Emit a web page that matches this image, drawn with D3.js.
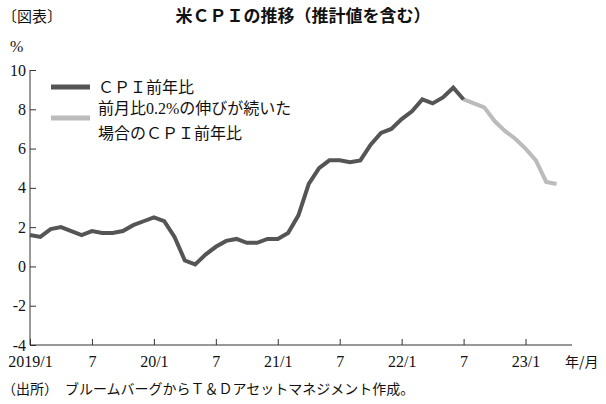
<!DOCTYPE html>
<html><head><meta charset="utf-8">
<script src="https://cdn.jsdelivr.net/npm/d3@7"></script>
<style>
body{margin:0;background:#fff;}
text{font-family:"Liberation Serif","Noto Sans CJK JP",serif;fill:#111;}
</style></head>
<body><svg id="chart" width="606" height="404"></svg>
<script>
const actual = [1.6,1.5,1.9,2.0,1.8,1.6,1.8,1.7,1.7,1.8,2.1,2.3,
  2.5,2.3,1.5,0.3,0.1,0.6,1.0,1.3,1.4,1.2,1.2,1.4,
  1.4,1.7,2.6,4.2,5.0,5.4,5.4,5.3,5.4,6.2,6.8,7.0,
  7.5,7.9,8.5,8.3,8.6,9.1,8.5];
const projected = [8.5,8.3,8.1,7.4,6.9,6.5,6.0,5.4,4.3,4.2];
const yTicks = [-4,-2,0,2,4,6,8,10];
const xTickMonths = [0,6,12,18,24,30,36,42,48];
const xTickLabels = ['2019/1','7','20/1','7','21/1','7','22/1','7','23/1'];

const svg = d3.select('#chart');
const x = d3.scaleLinear().domain([0, 52.5]).range([30, 572]);
const y = d3.scaleLinear().domain([-4, 10]).range([345, 70]);
const jp = '"Noto Sans CJK JP",sans-serif';

svg.append('text').attr('x', 2).attr('y', 22).style('font-family', jp).style('font-size', '15px').text('〔図表〕');
svg.append('text').attr('x', 303).attr('y', 22).attr('text-anchor', 'middle').style('font-family', jp)
  .style('font-size', '17px').style('font-weight', 'bold').text('米ＣＰＩの推移（推計値を含む）');
svg.append('text').attr('x', 10).attr('y', 52).style('font-size', '16px').text('%');

const yAxis = svg.append('g').attr('transform', 'translate(30,0)')
  .call(d3.axisRight(y).tickValues(yTicks).tickSize(6).tickFormat(d => String(d)));
yAxis.selectAll('text').attr('x', -4).attr('text-anchor', 'end').style('font-size', '16px');
const xAxis = svg.append('g').attr('transform', 'translate(0,345)')
  .call(d3.axisTop(x).tickValues(xTickMonths).tickSize(6).tickFormat((d, i) => xTickLabels[i]));
xAxis.selectAll('text').attr('y', 22).style('font-size', '16px');
[yAxis, xAxis].forEach(a => { a.select('.domain').attr('stroke', '#333'); a.selectAll('line').attr('stroke', '#333'); });
xAxis.select('.domain').attr('d', 'M30,0H572');
yAxis.select('.domain').attr('d', 'M0,70V345');
svg.append('text').attr('x', 565).attr('y', 367).style('font-family', jp).style('font-size', '14px').text('年/月');

const line = d3.line().x(d => x(d[0])).y(d => y(d[1]));
svg.append('path').datum(projected.map((v, i) => [42 + i, v])).attr('d', line)
  .attr('fill', 'none').attr('stroke', '#bbb').attr('stroke-width', 4);
svg.append('path').datum(actual.map((v, i) => [i, v])).attr('d', line)
  .attr('fill', 'none').attr('stroke', '#555').attr('stroke-width', 4);

const leg = svg.append('g').style('font-family', jp).style('font-size', '16px');
leg.append('line').attr('x1', 51).attr('x2', 90).attr('y1', 87).attr('y2', 87).attr('stroke', '#555').attr('stroke-width', 5);
leg.append('text').attr('x', 98).attr('y', 93).text('ＣＰＩ前年比');
leg.append('line').attr('x1', 51).attr('x2', 90).attr('y1', 118).attr('y2', 118).attr('stroke', '#bbb').attr('stroke-width', 5);
leg.append('text').attr('x', 98).attr('y', 114).text('前月比0.2%の伸びが続いた');
leg.append('text').attr('x', 98).attr('y', 139).text('場合のＣＰＩ前年比');

svg.append('text').attr('x', 2).attr('y', 394).style('font-family', jp).style('font-size', '14px')
  .text('（出所）　ブルームバーグからＴ＆Ｄアセットマネジメント作成。');
</script></body></html>
